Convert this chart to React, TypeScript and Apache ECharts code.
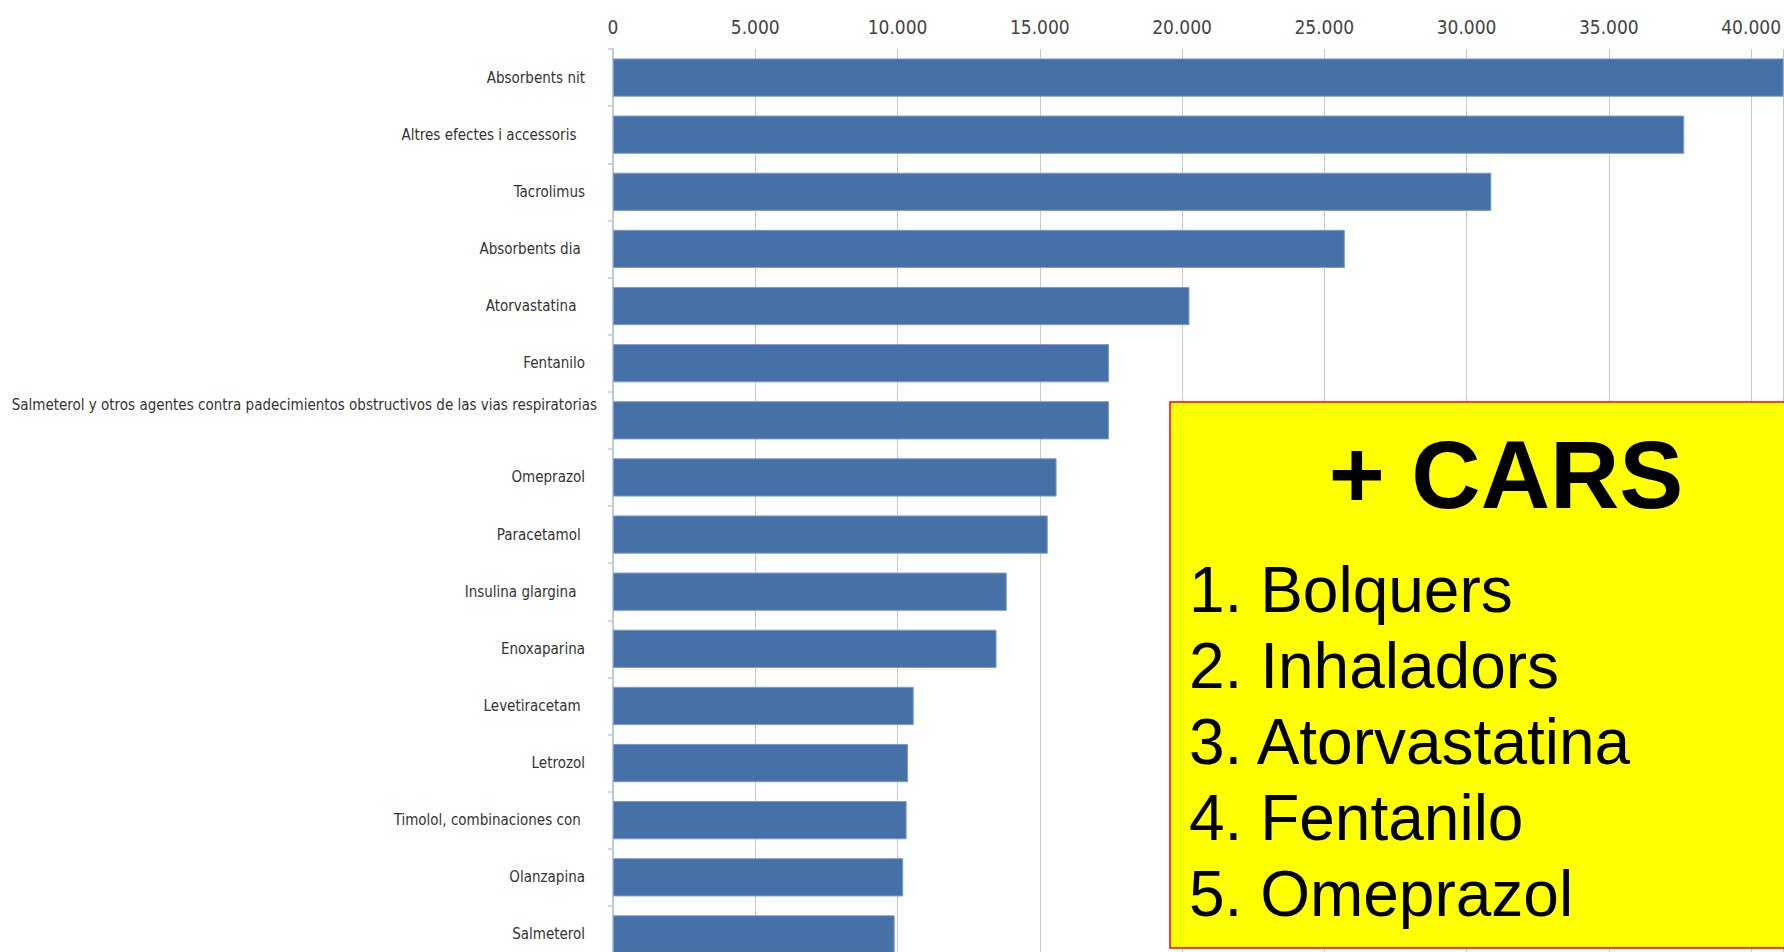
import React, { useEffect, useRef } from "react";
import * as echarts from "echarts";

const categories = [
  "Absorbents nit",
  "Altres efectes i accessoris  ",
  "Tacrolimus",
  "Absorbents dia ",
  "Atorvastatina  ",
  "Fentanilo",
  "Salmeterol y otros agentes contra padecimientos obstructivos de las vias respiratorias",
  "Omeprazol",
  "Paracetamol ",
  "Insulina glargina  ",
  "Enoxaparina",
  "Levetiracetam ",
  "Letrozol",
  "Timolol, combinaciones con ",
  "Olanzapina",
  "Salmeterol",
];

const values = [
  43000, 37650, 30870, 25720, 20260, 17430, 17430, 15590, 15280, 13840, 13480,
  10570, 10370, 10320, 10200, 9900,
];

const axisMin = 0;
const axisMax = 41124;
const axisInterval = 5000;

const boxTitle = "+ CARS";
const boxItems = [
  "1. Bolquers",
  "2. Inhaladors",
  "3. Atorvastatina",
  "4. Fentanilo",
  "5. Omeprazol",
];

const condensed = "'DejaVu Sans Condensed', 'Liberation Sans Narrow', sans-serif";
const arial = "'Liberation Sans', Arial, sans-serif";

function fmt(v: number): string {
  return String(v).replace(/\B(?=(\d{3})+(?!\d))/g, ".");
}

export default function App() {
  const ref = useRef<HTMLDivElement>(null);

  useEffect(() => {
    if (!ref.current) return;
    const chart = echarts.init(ref.current, null, { renderer: "svg" });

    const longLabel = categories[6];
    const itemTop = 590;
    const itemStep = 76;

    chart.setOption({
      animation: false,
      backgroundColor: "#ffffff",
      grid: { left: 613, right: 0, top: 49, bottom: 0, containLabel: false },
      xAxis: {
        type: "value",
        position: "top",
        min: axisMin,
        max: axisMax,
        interval: axisInterval,
        axisLine: { show: false },
        axisTick: { show: false },
        axisLabel: {
          fontSize: 19,
          color: "#444444",
          fontFamily: condensed,
          margin: 13,
          showMaxLabel: false,
          formatter: (v: number) => fmt(v),
        },
        splitLine: { show: true, lineStyle: { color: "#c8c8c8", width: 1 } },
      },
      yAxis: {
        type: "category",
        inverse: true,
        data: categories,
        offset: 5,
        axisLine: { show: true, lineStyle: { color: "#bccbdd", width: 2 } },
        axisTick: { show: true, length: 5, lineStyle: { color: "#bccbdd", width: 1.5 } },
        axisLabel: {
          fontSize: 15,
          color: "#333333",
          fontFamily: condensed,
          margin: 23,
          formatter: (v: string) => (v === longLabel ? `{up|${v}}` : v),
          rich: {
            up: {
              fontSize: 15,
              color: "#333333",
              fontFamily: condensed,
              padding: [0, -12, 30, 0],
            },
          },
        },
        splitLine: { show: false },
      },
      series: [
        {
          type: "bar",
          data: values,
          barCategoryGap: "33%",
          itemStyle: {
            color: "#4571a8",
            borderColor: "#7d9cc6",
            borderWidth: 1,
          },
        },
      ],
      graphic: [
        {
          type: "rect",
          z: 100,
          shape: { x: 1170, y: 402, width: 700, height: 546 },
          style: { fill: "#ffff00", stroke: "#ff0000", lineWidth: 1.5 },
        },
        {
          type: "text",
          z: 101,
          x: 1506,
          y: 474,
          style: {
            text: boxTitle,
            font: `bold 96px ${arial}`,
            fill: "#000000",
            align: "center",
            verticalAlign: "middle",
          },
        },
        ...boxItems.map((t, i) => ({
          type: "text",
          z: 101,
          x: 1189,
          y: itemTop + i * itemStep,
          style: {
            text: t,
            font: `64px ${arial}`,
            fill: "#000000",
            align: "left",
            verticalAlign: "middle",
          },
        })),
      ],
    });

    return () => chart.dispose();
  }, []);

  return (
    <div
      style={{
        position: "absolute",
        left: 0,
        top: 0,
        width: 1784,
        height: 952,
        overflow: "hidden",
      }}
    >
      <div ref={ref} style={{ width: 1784, height: 963 }} />
    </div>
  );
}
